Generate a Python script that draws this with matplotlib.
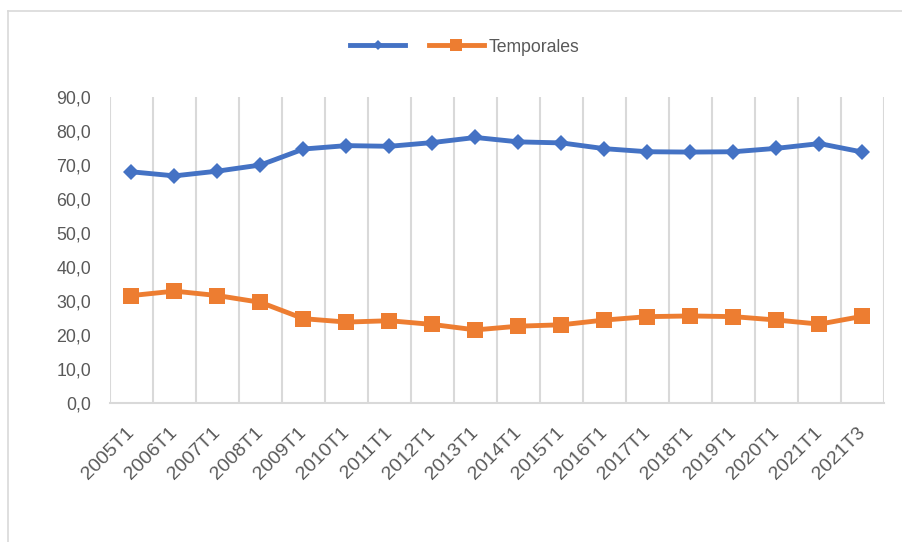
import matplotlib
matplotlib.use("Agg")
import matplotlib.pyplot as plt
from matplotlib.lines import Line2D
import numpy as np

categories = ["2005T1", "2006T1", "2007T1", "2008T1", "2009T1", "2010T1",
              "2011T1", "2012T1", "2013T1", "2014T1", "2015T1", "2016T1",
              "2017T1", "2018T1", "2019T1", "2020T1", "2021T1", "2021T3"]
indefinidos = [68.0, 66.8, 68.2, 70.0, 74.7, 75.7, 75.5, 76.6, 78.1, 76.8,
               76.5, 74.8, 73.9, 73.8, 73.9, 74.9, 76.3, 73.8]
temporales = [31.6, 32.9, 31.6, 29.6, 24.8, 23.8, 24.2, 23.1, 21.5, 22.6,
              23.0, 24.4, 25.4, 25.6, 25.4, 24.4, 23.2, 25.5]
yticks = [0, 10, 20, 30, 40, 50, 60, 70, 80, 90]

BLUE = "#4472C4"
ORANGE = "#ED7D31"
GRID = "#D9D9D9"
TEXT = "#595959"

plt.rcParams["font.family"] = ["Liberation Sans", "DejaVu Sans"]

fig = plt.figure(figsize=(9.03, 5.42), dpi=100)
ax = fig.add_axes([110 / 903, 1 - 403 / 542, (884 - 110) / 903, (403 - 97) / 542])

x = np.arange(len(categories))
ax.plot(x, indefinidos, color=BLUE, lw=3.5, marker="D", ms=8,
        markeredgewidth=0, solid_capstyle="round", zorder=3)
ax.plot(x, temporales, color=ORANGE, lw=3.5, marker="s", ms=12,
        markeredgewidth=0, solid_capstyle="round", zorder=3)

ax.set_xlim(-0.5, len(categories) - 0.5)
ax.set_ylim(0, 90)
ax.set_yticks(yticks)
ax.set_yticklabels([f"{v:.1f}".replace(".", ",") for v in yticks],
                   color=TEXT, fontsize=12.8)
ax.set_xticks(x)
ax.set_xticklabels(categories, rotation=45, ha="right", va="center",
                   rotation_mode="anchor", color=TEXT, fontsize=14)
ax.tick_params(axis="both", length=0)
ax.tick_params(axis="y", pad=13.5)
ax.tick_params(axis="x", pad=19.5)

# vertical gridlines between categories
ax.set_xticks(np.arange(-0.5, len(categories)), minor=True)
ax.tick_params(axis="x", which="minor", length=0)
ax.grid(axis="x", which="minor", color=GRID, lw=1.5)
ax.grid(axis="x", which="major", visible=False)

for side in ["top", "left", "right"]:
    ax.spines[side].set_visible(False)
ax.spines["bottom"].set_color(GRID)
ax.spines["bottom"].set_linewidth(1.5)

h1 = Line2D([], [], color=BLUE, lw=3.5, marker="D", ms=5, markeredgewidth=0)
h2 = Line2D([], [], color=ORANGE, lw=3.5, marker="s", ms=8, markeredgewidth=0)
leg = fig.legend([h1, h2], ["", "Temporales"], loc="center",
                 bbox_to_anchor=(465 / 903, 1 - 47 / 542), ncol=2,
                 frameon=False, fontsize=12.7, handlelength=3.1,
                 handletextpad=0.28, columnspacing=1.08)
for t in leg.get_texts():
    t.set_color(TEXT)

# chart frame
fig.add_artist(Line2D([7.5 / 903, 7.5 / 903], [0, 1 - 11 / 542],
                      transform=fig.transFigure, color=GRID, lw=1.2))
fig.add_artist(Line2D([7.5 / 903, 1], [1 - 11 / 542, 1 - 11 / 542],
                      transform=fig.transFigure, color=GRID, lw=1.2))

fig.savefig("out.png", dpi=100, facecolor="white")
